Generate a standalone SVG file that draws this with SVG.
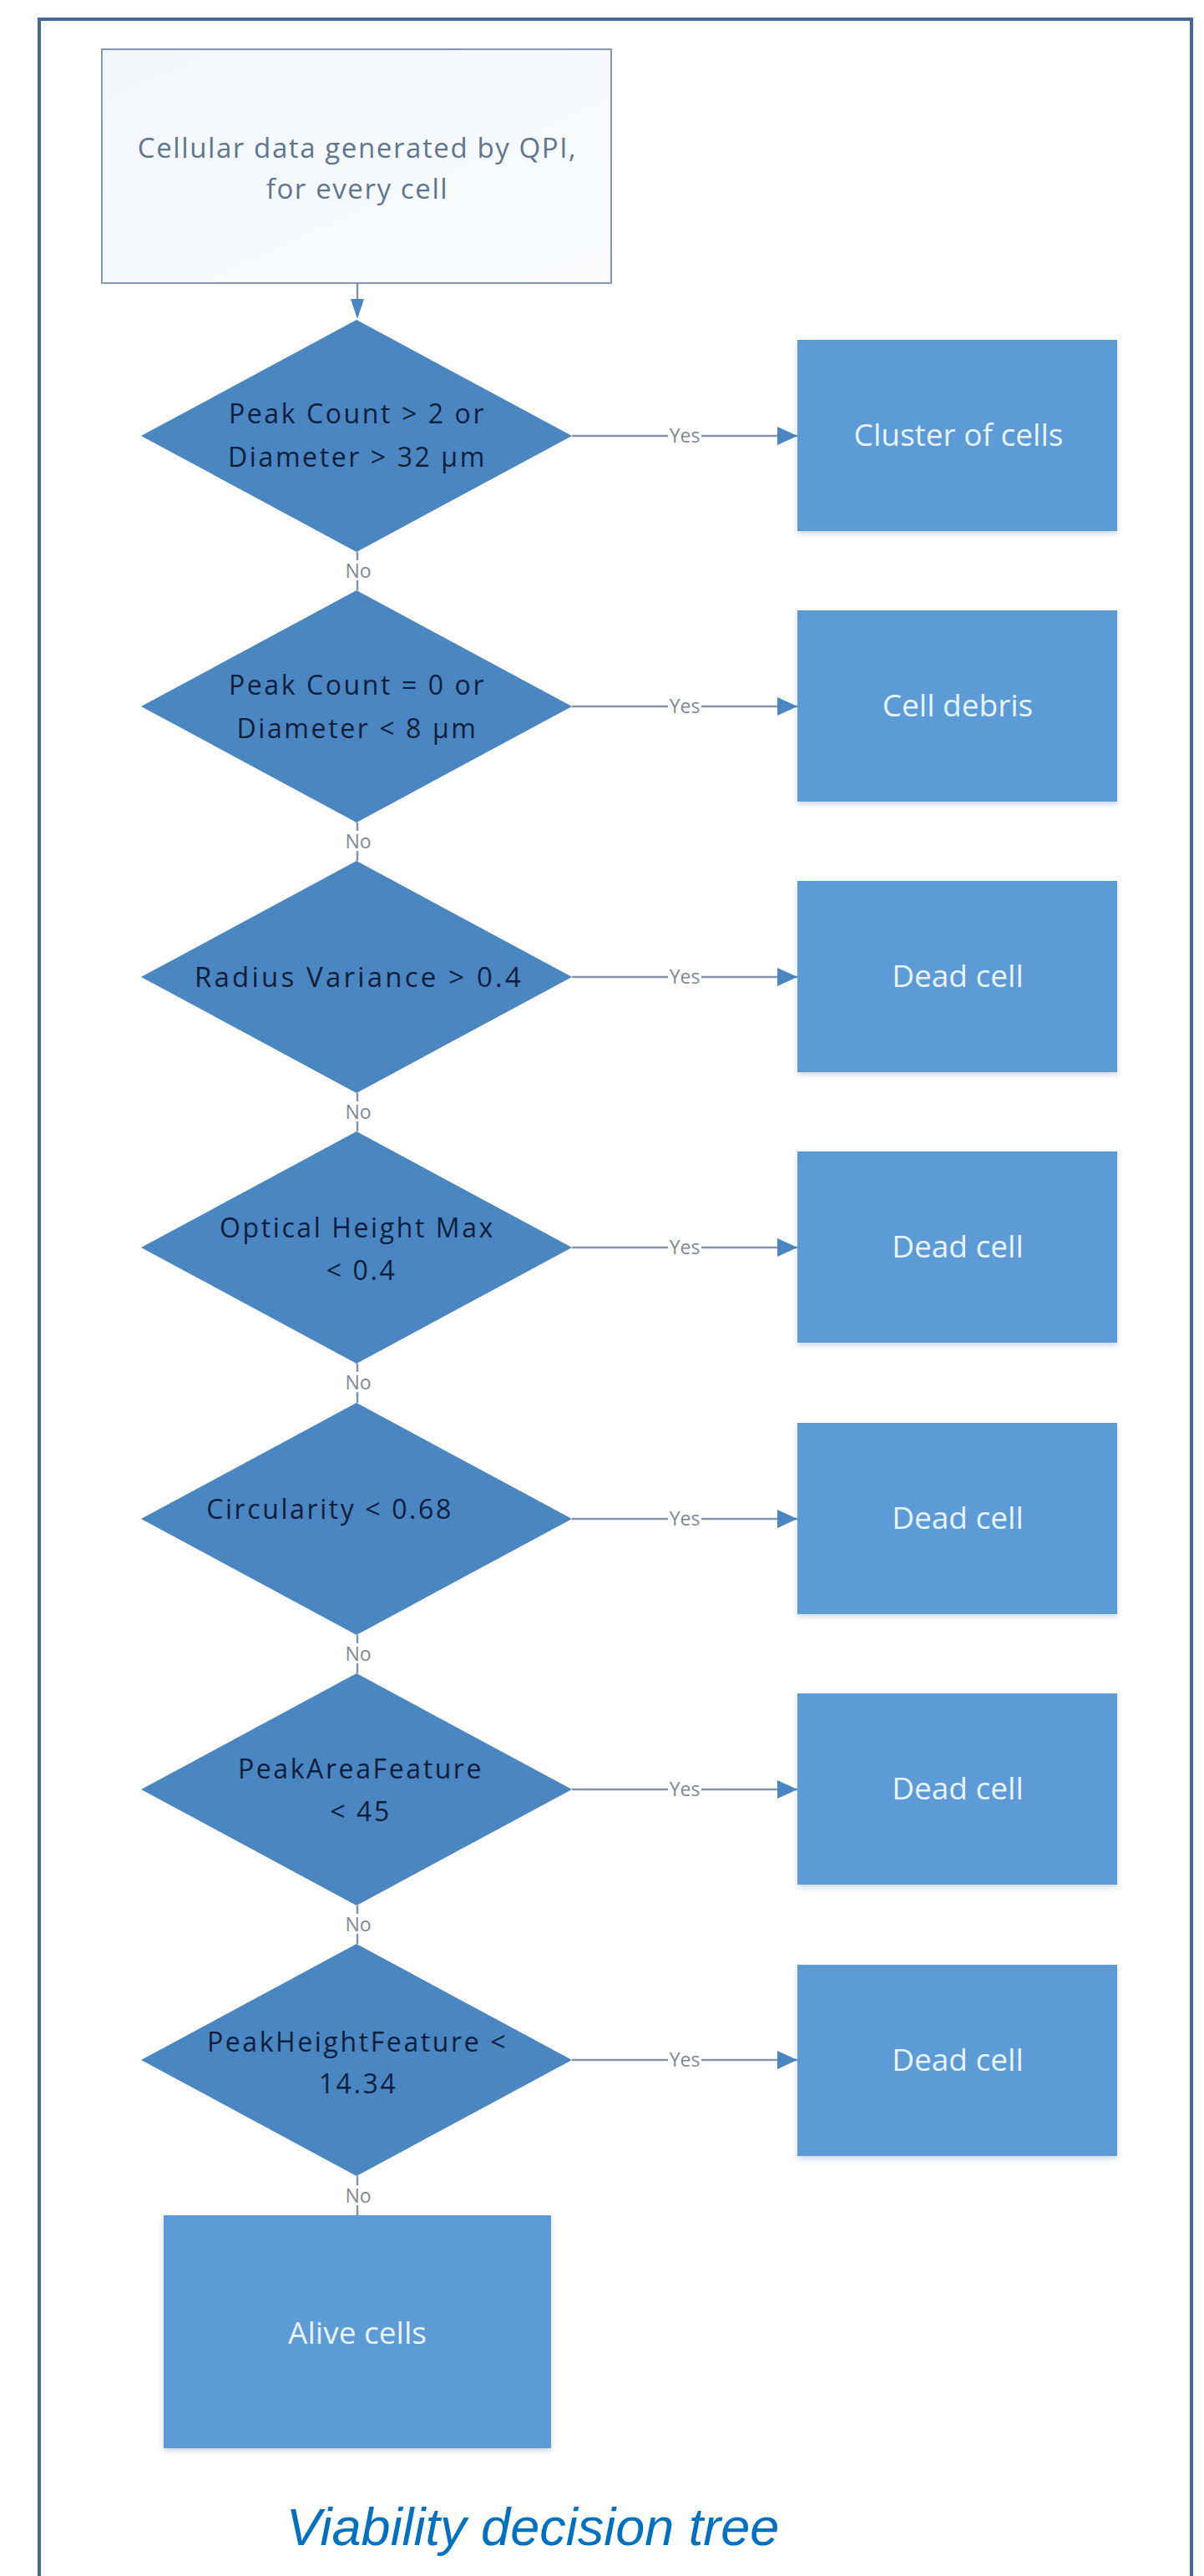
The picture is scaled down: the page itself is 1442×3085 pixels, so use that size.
<svg xmlns="http://www.w3.org/2000/svg" width="1442" height="3085" viewBox="0 0 1442 3085">
  <defs>
    <style>
      .frame { fill: none; stroke: #41699A; stroke-width: 4; }
      .start { fill: url(#startg); stroke: #8198B0; stroke-width: 2; }
      .start-txt { font-family: "Open Sans", "Noto Sans", sans-serif; font-size: 33px; letter-spacing: 1.6px; fill: #5E7690; text-anchor: middle; }
      .dec { fill: #4A86C1; }
      .dec-txt { font-family: "Open Sans", "Noto Sans", sans-serif; font-size: 32px; letter-spacing: 2.6px; fill: #0F1E3C; text-anchor: middle; }
      .out { fill: #5B9BD5; filter: url(#sh); }
      .out-txt { font-family: "Open Sans", "Noto Sans", sans-serif; font-size: 37px; fill: #E8F4FC; text-anchor: middle; }
      .conn { stroke: #8394AA; stroke-width: 2.5; fill: none; }
      .head { fill: #4A86C1; }
      .lblbg { fill: #FFFFFF; }
      .lbl { font-family: "Open Sans", "Noto Sans", sans-serif; font-size: 23px; fill: #7F8894; text-anchor: middle; }
      .title { font-family: "Liberation Sans", Arial, sans-serif; font-style: italic; font-size: 63px; fill: #0070C0; text-anchor: middle; }
    </style>
    <linearGradient id="startg" x1="0" y1="0" x2="1" y2="1">
      <stop offset="0" stop-color="#F2F7FC"/>
      <stop offset="1" stop-color="#FAFCFE"/>
    </linearGradient>
    <filter id="sh" x="-5%" y="-5%" width="110%" height="115%">
      <feDropShadow dx="0" dy="3" stdDeviation="3" flood-color="#2F5F8F" flood-opacity="0.25"/>
    </filter>
    <marker id="arrR" markerWidth="24" markerHeight="22" refX="24" refY="11" orient="auto" markerUnits="userSpaceOnUse">
      <path d="M0,0 L24,11 L0,22 Z" fill="#4A86C1"/>
    </marker>
  </defs>

  <rect class="frame" x="47" y="23" width="1380" height="3080"/>

  <!-- connectors -->
  <g id="connectors">
    <line class="conn" x1="428" y1="339" x2="428" y2="362"/>
    <path class="head" d="M420,358 L436,358 L428,382 Z"/>

    <!-- Yes connectors -->
    <line class="conn" x1="685" y1="522" x2="955" y2="522" marker-end="url(#arrR)"/>
    <line class="conn" x1="685" y1="846" x2="955" y2="846" marker-end="url(#arrR)"/>
    <line class="conn" x1="685" y1="1170" x2="955" y2="1170" marker-end="url(#arrR)"/>
    <line class="conn" x1="685" y1="1494" x2="955" y2="1494" marker-end="url(#arrR)"/>
    <line class="conn" x1="685" y1="1819" x2="955" y2="1819" marker-end="url(#arrR)"/>
    <line class="conn" x1="685" y1="2143" x2="955" y2="2143" marker-end="url(#arrR)"/>
    <line class="conn" x1="685" y1="2467" x2="955" y2="2467" marker-end="url(#arrR)"/>

    <!-- No connectors -->
    <line class="conn" x1="428" y1="661" x2="428" y2="707"/>
    <line class="conn" x1="428" y1="985" x2="428" y2="1031"/>
    <line class="conn" x1="428" y1="1309" x2="428" y2="1355"/>
    <line class="conn" x1="428" y1="1633" x2="428" y2="1680"/>
    <line class="conn" x1="428" y1="1958" x2="428" y2="2004"/>
    <line class="conn" x1="428" y1="2282" x2="428" y2="2328"/>
    <line class="conn" x1="428" y1="2606" x2="428" y2="2653"/>

    <!-- Yes labels -->
    <g>
      <rect class="lblbg" x="800" y="510" width="40" height="24"/>
      <text class="lbl" x="820" y="530">Yes</text>
      <rect class="lblbg" x="800" y="834" width="40" height="24"/>
      <text class="lbl" x="820" y="854">Yes</text>
      <rect class="lblbg" x="800" y="1158" width="40" height="24"/>
      <text class="lbl" x="820" y="1178">Yes</text>
      <rect class="lblbg" x="800" y="1482" width="40" height="24"/>
      <text class="lbl" x="820" y="1502">Yes</text>
      <rect class="lblbg" x="800" y="1807" width="40" height="24"/>
      <text class="lbl" x="820" y="1827">Yes</text>
      <rect class="lblbg" x="800" y="2131" width="40" height="24"/>
      <text class="lbl" x="820" y="2151">Yes</text>
      <rect class="lblbg" x="800" y="2455" width="40" height="24"/>
      <text class="lbl" x="820" y="2475">Yes</text>
    </g>
    <!-- No labels -->
    <g>
      <rect class="lblbg" x="412" y="671" width="34" height="24"/>
      <text class="lbl" x="429" y="692">No</text>
      <rect class="lblbg" x="412" y="995" width="34" height="24"/>
      <text class="lbl" x="429" y="1016">No</text>
      <rect class="lblbg" x="412" y="1319" width="34" height="24"/>
      <text class="lbl" x="429" y="1340">No</text>
      <rect class="lblbg" x="412" y="1643" width="34" height="24"/>
      <text class="lbl" x="429" y="1664">No</text>
      <rect class="lblbg" x="412" y="1968" width="34" height="24"/>
      <text class="lbl" x="429" y="1989">No</text>
      <rect class="lblbg" x="412" y="2292" width="34" height="24"/>
      <text class="lbl" x="429" y="2313">No</text>
      <rect class="lblbg" x="412" y="2617" width="34" height="24"/>
      <text class="lbl" x="429" y="2638">No</text>
    </g>
  </g>

  <!-- start node -->
  <g id="start">
    <rect class="start" x="122" y="59" width="610" height="280"/>
    <text class="start-txt" x="428" y="189">Cellular data generated by QPI,</text>
    <text class="start-txt" x="428" y="238">for every cell</text>
  </g>

  <!-- decisions -->
  <g id="dec1">
    <polygon class="dec" points="427,383 685,522 427,661 169,522"/>
    <text class="dec-txt" x="428" y="507">Peak Count &gt; 2 or</text>
    <text class="dec-txt" x="428" y="559">Diameter &gt; 32 µm</text>
  </g>
  <g id="dec2">
    <polygon class="dec" points="427,707 685,846 427,985 169,846"/>
    <text class="dec-txt" x="428" y="832">Peak Count = 0 or</text>
    <text class="dec-txt" x="428" y="884">Diameter &lt; 8 µm</text>
  </g>
  <g id="dec3">
    <polygon class="dec" points="427,1031 685,1170 427,1309 169,1170"/>
    <text class="dec-txt" x="430" y="1182" style="font-size:33px;letter-spacing:3.2px">Radius Variance &gt; 0.4</text>
  </g>
  <g id="dec4">
    <polygon class="dec" points="427,1355 685,1494 427,1633 169,1494"/>
    <text class="dec-txt" x="428" y="1482">Optical Height Max</text>
    <text class="dec-txt" x="433" y="1533">&lt; 0.4</text>
  </g>
  <g id="dec5">
    <polygon class="dec" points="427,1680 685,1819 427,1958 169,1819"/>
    <text class="dec-txt" x="395" y="1819">Circularity &lt; 0.68</text>
  </g>
  <g id="dec6">
    <polygon class="dec" points="427,2004 685,2143 427,2282 169,2143"/>
    <text class="dec-txt" x="432" y="2130">PeakAreaFeature</text>
    <text class="dec-txt" x="432" y="2181">&lt; 45</text>
  </g>
  <g id="dec7">
    <polygon class="dec" points="427,2328 685,2467 427,2606 169,2467"/>
    <text class="dec-txt" x="428" y="2457">PeakHeightFeature &lt;</text>
    <text class="dec-txt" x="429" y="2507">14.34</text>
  </g>

  <!-- outcomes -->
  <g id="out1">
    <rect class="out" x="955" y="407" width="383" height="229"/>
    <text class="out-txt" x="1148" y="534">Cluster of cells</text>
  </g>
  <g id="out2">
    <rect class="out" x="955" y="731" width="383" height="229"/>
    <text class="out-txt" x="1147" y="858">Cell debris</text>
  </g>
  <g id="out3">
    <rect class="out" x="955" y="1055" width="383" height="229"/>
    <text class="out-txt" x="1147" y="1182">Dead cell</text>
  </g>
  <g id="out4">
    <rect class="out" x="955" y="1379" width="383" height="229"/>
    <text class="out-txt" x="1147" y="1506">Dead cell</text>
  </g>
  <g id="out5">
    <rect class="out" x="955" y="1704" width="383" height="229"/>
    <text class="out-txt" x="1147" y="1831">Dead cell</text>
  </g>
  <g id="out6">
    <rect class="out" x="955" y="2028" width="383" height="229"/>
    <text class="out-txt" x="1147" y="2155">Dead cell</text>
  </g>
  <g id="out7">
    <rect class="out" x="955" y="2353" width="383" height="229"/>
    <text class="out-txt" x="1147" y="2480">Dead cell</text>
  </g>
  <g id="alive">
    <rect class="out" x="196" y="2653" width="464" height="279"/>
    <text class="out-txt" x="428" y="2807">Alive cells</text>
  </g>

  <text class="title" x="638" y="3048">Viability decision tree</text>
</svg>
